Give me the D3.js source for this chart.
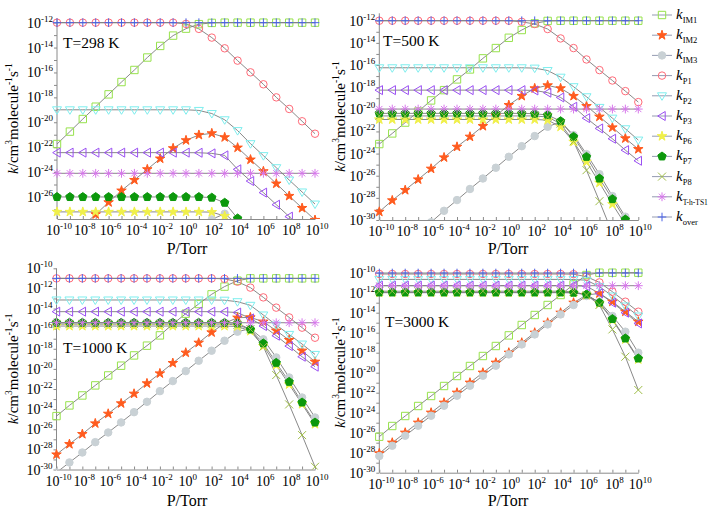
<!DOCTYPE html>
<html><head><meta charset="utf-8">
<script src="https://cdn.jsdelivr.net/npm/d3@7"></script>
<style>
body{margin:0;background:#fff}
svg{display:block}
svg text{font-family:"Liberation Serif",serif}
</style>
</head><body>
<svg id="chart" width="709" height="510"></svg>
<script>
// ---------------- DATA (log10 of k) ----------------
const pressureExponents = d3.range(-10, 11);           // P = 10^-10 ... 10^10 Torr
const xTickExponents = [-10,-8,-6,-4,-2,0,2,4,6,8,10];
const seriesKeys = ["IM1","IM2","IM3","P1","P2","P3","P6","P7","P8","TS1","over"];
const legendSubscripts = ["IM1","IM2","IM3","P1","P2","P3","P6","P7","P8","T-h-TS1","over"];
const panelTitles = ["T=298 K","T=500 K","T=1000 K","T=3000 K"];

// T = 298 K
const T298_IM1 = [-21.75,-20.75,-19.74,-18.75,-17.76,-16.77,-15.8,-14.8,-13.87,-13.04,-12.48,-12.12,-12.02,-12,-12,-12,-12,-12,-12,-12,-12];
const T298_IM2 = [-30.1,-29.2,-28.3,-27.4,-26.43,-25.49,-24.64,-23.78,-22.92,-22.09,-21.45,-21.02,-20.89,-21.21,-22.04,-23.0,-23.94,-24.93,-25.92,-26.89,-27.85];
const T298_IM3 = [-38.9,-38.0,-37.1,-36.1,-35.2,-34.2,-33.3,-32.3,-31.4,-30.4,-29.5,-28.6,-27.8,-27.35,-28.2,-29.9,-31.8,-33.7,-35.6,-37.5,-39.4];
const T298_P1  = [-12,-12,-12,-12,-12,-12,-12,-12,-12,-12,-12.1,-12.5,-13.2,-14.06,-15.05,-15.99,-16.95,-18.0,-18.93,-19.92,-20.92];
const T298_P2  = [-19,-19,-19,-19,-19,-19,-19,-19,-19,-19,-19,-19.05,-19.3,-19.8,-20.67,-21.72,-22.68,-23.65,-24.64,-25.6,-26.57];
const T298_P3  = [-22.44,-22.44,-22.44,-22.44,-22.44,-22.44,-22.44,-22.44,-22.44,-22.44,-22.44,-22.45,-22.5,-22.66,-23.78,-24.72,-25.65,-26.62,-27.58,-28.55,-29.5];
const T298_P6  = [-27.2,-27.2,-27.2,-27.2,-27.2,-27.2,-27.2,-27.2,-27.2,-27.2,-27.2,-27.2,-27.22,-27.53,-28.6,-30.5,-32.5,-34.5,-36.5,-38.5,-40.5];
const T298_P7  = [-26,-26,-26,-26,-26,-26,-26,-26,-26,-26,-26,-26,-26.05,-26.46,-27.72,-29.6,-31.6,-33.6,-35.6,-37.6,-39.6];
const T298_P8  = [-28.5,-28.5,-28.5,-28.5,-28.5,-28.5,-28.5,-28.5,-28.5,-28.5,-28.5,-28.5,-28.5,-29.0,-30.5,-32.5,-34.5,-36.5,-38.5,-40.5,-42.5];
const T298_TS1 = [-24.1,-24.1,-24.1,-24.1,-24.1,-24.1,-24.1,-24.1,-24.1,-24.1,-24.1,-24.1,-24.1,-24.1,-24.1,-24.1,-24.1,-24.1,-24.1,-24.1,-24.1];
const T298_over= [-12,-12,-12,-12,-12,-12,-12,-12,-12,-12,-12,-12,-12,-12,-12,-12,-12,-12,-12,-12,-12];

// T = 500 K
const T500_IM1 = [-23.14,-22.18,-21.2,-20.2,-19.2,-18.27,-17.3,-16.4,-15.4,-14.47,-13.54,-12.84,-12.24,-12.02,-12,-12,-12,-12,-12,-12,-12];
const T500_IM2 = [-29.26,-28.23,-27.3,-26.34,-25.37,-24.35,-23.39,-22.48,-21.52,-20.58,-19.62,-18.8,-18.11,-17.84,-18.11,-18.8,-19.71,-20.67,-21.64,-22.63,-23.6];
const T500_IM3 = [-34.0,-33.0,-32.1,-31.2,-30.2,-29.17,-28.2,-27.2,-26.25,-25.28,-24.29,-23.33,-22.42,-21.58,-21.13,-22.33,-24.05,-25.86,-27.84,-29.7,-31.6];
const T500_P1  = [-12,-12,-12,-12,-12,-12,-12,-12,-12,-12,-12,-12.1,-12.3,-12.75,-13.6,-14.47,-15.5,-16.46,-17.4,-18.36,-19.35];
const T500_P2  = [-16.25,-16.25,-16.25,-16.25,-16.25,-16.25,-16.25,-16.25,-16.25,-16.25,-16.25,-16.25,-16.28,-16.5,-17.1,-17.96,-18.87,-19.83,-20.8,-21.76,-22.78];
const T500_P3  = [-18.27,-18.27,-18.27,-18.27,-18.27,-18.27,-18.27,-18.27,-18.27,-18.27,-18.27,-18.27,-18.3,-18.5,-18.93,-19.77,-20.8,-21.73,-22.66,-23.69,-24.65];
const T500_P6  = [-20.92,-20.92,-20.92,-20.92,-20.92,-20.92,-20.92,-20.92,-20.92,-20.92,-20.92,-20.92,-20.92,-20.98,-21.58,-22.93,-24.74,-26.64,-28.57,-30.4,-32.3];
const T500_P7  = [-20.37,-20.37,-20.37,-20.37,-20.37,-20.37,-20.37,-20.37,-20.37,-20.37,-20.37,-20.37,-20.4,-20.52,-21.07,-22.48,-24.29,-26.25,-28.11,-29.95,-31.8];
const T500_P8  = [-20.6,-20.6,-20.6,-20.6,-20.6,-20.6,-20.6,-20.6,-20.6,-20.6,-20.6,-20.6,-20.6,-20.7,-21.3,-22.9,-25.5,-28.3,-31.2,-34.0,-37.0];
const T500_TS1 = [-19.98,-19.98,-19.98,-19.98,-19.98,-19.98,-19.98,-19.98,-19.98,-19.98,-19.98,-19.98,-19.98,-19.98,-19.98,-19.98,-19.98,-19.98,-19.98,-19.98,-19.98];
const T500_over= [-12,-12,-12,-12,-12,-12,-12,-12,-12,-12,-12,-12,-12,-12,-12,-12,-12,-12,-12,-12,-12];

// T = 1000 K
const T1000_IM1 = [-24.69,-23.63,-22.64,-21.64,-20.65,-19.68,-18.66,-17.69,-16.67,-15.54,-14.51,-13.55,-12.59,-11.82,-11.23,-11.0,-11,-11,-11,-11,-11];
const T1000_IM2 = [-28.51,-27.48,-26.48,-25.42,-24.46,-23.43,-22.47,-21.44,-20.45,-19.42,-18.39,-17.4,-16.37,-15.47,-14.91,-14.88,-15.31,-16.2,-17.13,-18.19,-19.29];
const T1000_IM3 = [-30.3,-29.3,-28.31,-27.28,-26.32,-25.32,-24.3,-23.27,-22.21,-21.21,-20.22,-19.19,-18.19,-17.2,-16.3,-16.0,-17.06,-18.86,-20.85,-22.84,-24.83];
const T1000_P1  = [-11,-11,-11,-11,-11,-11,-11,-11,-11,-11,-11,-11,-11,-11.05,-11.33,-11.92,-12.89,-13.91,-14.88,-15.9,-16.9];
const T1000_P2  = [-13.15,-13.15,-13.15,-13.15,-13.15,-13.15,-13.15,-13.15,-13.15,-13.15,-13.15,-13.15,-13.15,-13.17,-13.32,-13.68,-14.64,-15.64,-16.57,-17.53,-18.56];
const T1000_P3  = [-14.31,-14.31,-14.31,-14.31,-14.31,-14.31,-14.31,-14.31,-14.31,-14.31,-14.31,-14.31,-14.31,-14.32,-14.4,-14.98,-15.74,-16.7,-17.73,-18.79,-19.78];
const T1000_P6  = [-15.74,-15.74,-15.74,-15.74,-15.74,-15.74,-15.74,-15.74,-15.74,-15.74,-15.74,-15.74,-15.74,-15.74,-15.78,-16.24,-17.73,-19.62,-21.54,-23.5,-25.49];
const T1000_P7  = [-15.41,-15.41,-15.41,-15.41,-15.41,-15.41,-15.41,-15.41,-15.41,-15.41,-15.41,-15.41,-15.41,-15.42,-15.47,-16.07,-17.46,-19.39,-21.28,-23.33,-25.32];
const T1000_P8  = [-15.55,-15.55,-15.55,-15.55,-15.55,-15.55,-15.55,-15.55,-15.55,-15.55,-15.55,-15.55,-15.55,-15.56,-15.62,-16.07,-17.79,-20.61,-23.53,-26.58,-29.73];
const T1000_TS1 = [-15.41,-15.41,-15.41,-15.41,-15.41,-15.41,-15.41,-15.41,-15.41,-15.41,-15.41,-15.41,-15.41,-15.41,-15.41,-15.41,-15.41,-15.41,-15.41,-15.41,-15.41];
const T1000_over= [-11,-11,-11,-11,-11,-11,-11,-11,-11,-11,-11,-11,-11,-11,-11,-11,-11,-11,-11,-11,-11];

// T = 3000 K
const T3000_IM1 = [-26.4,-25.33,-24.33,-23.33,-22.33,-21.33,-20.33,-19.33,-18.33,-17.33,-16.27,-15.23,-14.23,-13.23,-12.23,-11.17,-10.23,-10.0,-10,-10,-10];
const T3000_IM2 = [-28.07,-27.0,-26.0,-25.0,-24.0,-23.0,-22.0,-21.0,-20.0,-19.0,-18.0,-17.0,-16.0,-15.0,-14.0,-13.0,-12.23,-12.07,-12.9,-13.9,-14.9];
const T3000_IM3 = [-28.33,-27.3,-26.3,-25.3,-24.3,-23.3,-22.3,-21.3,-20.3,-19.3,-18.17,-17.17,-16.17,-15.17,-14.17,-13.23,-12.33,-12.9,-14.33,-15.9,-18.0];
const T3000_P1  = [-10.13,-10.13,-10.13,-10.13,-10.13,-10.13,-10.13,-10.13,-10.13,-10.13,-10.13,-10.13,-10.13,-10.13,-10.13,-10.15,-10.4,-10.97,-11.9,-12.9,-13.9];
const T3000_P2  = [-10.67,-10.67,-10.67,-10.67,-10.67,-10.67,-10.67,-10.67,-10.67,-10.67,-10.67,-10.67,-10.67,-10.67,-10.67,-10.68,-10.75,-11.4,-12.33,-13.33,-14.33];
const T3000_P3  = [-11.3,-11.3,-11.3,-11.3,-11.3,-11.3,-11.3,-11.3,-11.3,-11.3,-11.3,-11.3,-11.3,-11.3,-11.3,-11.3,-11.35,-12.07,-13.0,-14.0,-15.07];
const T3000_P6  = [-12.0,-12.0,-12.0,-12.0,-12.0,-12.0,-12.0,-12.0,-12.0,-12.0,-12.0,-12.0,-12.0,-12.0,-12.0,-12.02,-12.2,-13.07,-14.73,-16.67,-18.67];
const T3000_P7  = [-11.97,-11.97,-11.97,-11.97,-11.97,-11.97,-11.97,-11.97,-11.97,-11.97,-11.97,-11.97,-11.97,-11.97,-11.97,-11.99,-12.17,-13.0,-14.63,-16.57,-18.57];
const T3000_P8  = [-11.85,-11.85,-11.85,-11.85,-11.85,-11.85,-11.85,-11.85,-11.85,-11.85,-11.85,-11.85,-11.85,-11.85,-11.85,-11.9,-12.23,-13.23,-15.67,-18.4,-21.73];
const T3000_TS1 = [-11.3,-11.3,-11.3,-11.3,-11.3,-11.3,-11.3,-11.3,-11.3,-11.3,-11.3,-11.3,-11.3,-11.3,-11.3,-11.3,-11.3,-11.3,-11.3,-11.3,-11.3];
const T3000_over= [-10.03,-10.03,-10.03,-10.03,-10.03,-10.03,-10.03,-10.03,-10.03,-10.03,-10.03,-10.03,-10.03,-10.03,-10.03,-10.03,-10.03,-10.03,-10.03,-10.03,-10.03];

const panelSeries = [
  [T298_IM1,T298_IM2,T298_IM3,T298_P1,T298_P2,T298_P3,T298_P6,T298_P7,T298_P8,T298_TS1,T298_over],
  [T500_IM1,T500_IM2,T500_IM3,T500_P1,T500_P2,T500_P3,T500_P6,T500_P7,T500_P8,T500_TS1,T500_over],
  [T1000_IM1,T1000_IM2,T1000_IM3,T1000_P1,T1000_P2,T1000_P3,T1000_P6,T1000_P7,T1000_P8,T1000_TS1,T1000_over],
  [T3000_IM1,T3000_IM2,T3000_IM3,T3000_P1,T3000_P2,T3000_P3,T3000_P6,T3000_P7,T3000_P8,T3000_TS1,T3000_over]
];
const yExtents = [[-27.77,-11.65],[-30,-11.33],[-30,-10],[-30,-10]];

// ---------------- STYLE / LAYOUT ----------------
const markerStyles = [
  {shape:"square",   fill:"none",    stroke:"#97e24c"},
  {shape:"star",     fill:"#ff5b1e", stroke:"#ff5b1e"},
  {shape:"circle",   fill:"#c9d1d5", stroke:"#c9d1d5"},
  {shape:"circle",   fill:"none",    stroke:"#ff6a78"},
  {shape:"triDown",  fill:"none",    stroke:"#7eeeee"},
  {shape:"triLeft",  fill:"none",    stroke:"#9a4ff2"},
  {shape:"star",     fill:"#f0f04a", stroke:"#f0f04a"},
  {shape:"pentagon", fill:"#0c980c", stroke:"#0c980c"},
  {shape:"x",        fill:"none",    stroke:"#9fbd48"},
  {shape:"asterisk", fill:"none",    stroke:"#d777ec"},
  {shape:"plus",     fill:"none",    stroke:"#4a62e6"}
];
const panelLayout = [
  {x0:57,   x1:315,   yTop:18.3,  yBot:219,   title:[63,48],  xTitle:[187,254], yTitleX:18},
  {x0:379.3,x1:638.3, yTop:13.3,  yBot:220,   title:[383,46], xTitle:[508,254], yTitleX:345},
  {x0:56.5, x1:315,   yTop:268.3, yBot:469.5, title:[63,353], xTitle:[187,506], yTitleX:18},
  {x0:379.3,x1:638.3, yTop:272.7, yBot:472.7, title:[385,327],xTitle:[508,506], yTitleX:345}
];

function markerPath(shape){
  switch(shape){
    case "square": return "M-3.7,-3.7H3.7V3.7H-3.7Z";
    case "star": return d3.symbol(d3.symbolStar, 28)();
    case "circle": return d3.symbol(d3.symbolCircle, 44)();
    case "triDown": return "M-4.5,-3L4.5,-3L0,4.5Z";
    case "triLeft": return "M-4.3,0L3.2,-4.5L3.2,4.5Z";
    case "pentagon": {
      const pts = d3.range(5).map(i => { const a = -Math.PI/2 + i*2*Math.PI/5; return [4.4*Math.cos(a), 4.4*Math.sin(a)]; });
      return "M" + pts.map(p => p[0].toFixed(2)+","+p[1].toFixed(2)).join("L") + "Z";
    }
    case "x": return "M-4,-4L4,4M-4,4L4,-4";
    case "asterisk": return "M0,-4.4V4.4M-4.4,0H4.4M-3.1,-3.1L3.1,3.1M-3.1,3.1L3.1,-3.1";
    case "plus": return "M0,-4.3V4.3M-4.3,0H4.3";
  }
}

const svg = d3.select("#chart");

function powLabel(sel, exp, anchor){
  const t = sel.append("text").attr("text-anchor", anchor).attr("font-size", 14);
  t.append("tspan").text("10");
  t.append("tspan").attr("dy", -6).attr("font-size", 9).text(String(exp));
  return t;
}

panelLayout.forEach((L, pi) => {
  const x = d3.scaleLog().domain([1e-10, 1e10]).range([L.x0, L.x1]);
  const y = d3.scaleLog().domain([Math.pow(10, yExtents[pi][0]), Math.pow(10, yExtents[pi][1])]).range([L.yBot, L.yTop]);
  const g = svg.append("g");

  // axes
  const xAxis = d3.axisBottom(x).tickValues(pressureExponents.map(e => Math.pow(10, e))).tickSize(-3).tickSizeOuter(0).tickFormat(() => "");
  const gx = g.append("g").attr("transform", `translate(0,${L.yBot})`).call(xAxis);
  const yTicks = d3.range(Math.ceil(yExtents[pi][0]), Math.floor(yExtents[pi][1]) + 1).map(e => Math.pow(10, e));
  const yAxis = d3.axisLeft(y).tickValues(yTicks).tickSize(3).tickSizeOuter(0).tickFormat(() => "");
  const gy = g.append("g").attr("transform", `translate(${L.x0},0)`).call(yAxis);
  [gx, gy].forEach(a => { a.selectAll("path,line").attr("stroke", "#8a8a8a"); });
  gy.select(".domain").attr("d", `M0,${L.yTop}V${L.yBot}`);

  xTickExponents.forEach(e => {
    powLabel(g, e, "middle").attr("x", x(Math.pow(10, e)) + 2).attr("y", L.yBot + 16);
  });
  d3.range(Math.ceil(yExtents[pi][0]), Math.floor(yExtents[pi][1]) + 1).filter(e => e % 2 === 0).forEach(e => {
    powLabel(g, e, "end").attr("x", L.x0 - 4).attr("y", y(Math.pow(10, e)) + 5);
  });

  // titles
  g.append("text").attr("x", L.xTitle[0]).attr("y", L.xTitle[1]).attr("text-anchor","middle").attr("font-size", 16).text("P/Torr");
  g.append("text").attr("x", L.title[0]).attr("y", L.title[1]).attr("font-size", 15.5).text(panelTitles[pi]);
  const yt = g.append("text").attr("text-anchor","middle").attr("font-size", 15)
    .attr("transform", `translate(${L.yTitleX},${(L.yTop + L.yBot)/2}) rotate(-90)`);
  yt.append("tspan").attr("font-style","italic").text("k");
  yt.append("tspan").text("/cm");
  yt.append("tspan").attr("dy",-6).attr("font-size", 9.5).text("3");
  yt.append("tspan").attr("dy",6).text("molecule");
  yt.append("tspan").attr("dy",-6).attr("font-size", 9.5).text("-1");
  yt.append("tspan").attr("dy",6).text("s");
  yt.append("tspan").attr("dy",-6).attr("font-size", 9.5).text("-1");

  // data
  const clipId = "clip" + pi;
  svg.append("clipPath").attr("id", clipId).append("rect")
    .attr("x", L.x0 - 12).attr("y", L.yTop - 12).attr("width", L.x1 - L.x0 + 24).attr("height", L.yBot - L.yTop + 12);
  const dg = g.append("g").attr("clip-path", `url(#${clipId})`);
  const line = d3.line().x(d => x(Math.pow(10, d[0]))).y(d => y(Math.pow(10, d[1])));
  const seriesData = panelSeries[pi].map(vals => pressureExponents.map((e, i) => [e, vals[i]]));
  seriesData.forEach(pts => {
    dg.append("path").attr("d", line(pts)).attr("fill","none").attr("stroke","#7c7c7c").attr("stroke-width",0.9);
  });
  seriesData.forEach((pts, si) => {
    const st = markerStyles[si];
    dg.append("g").selectAll("path").data(pts).join("path")
      .attr("d", markerPath(st.shape))
      .attr("transform", d => `translate(${x(Math.pow(10, d[0]))},${y(Math.pow(10, d[1]))})`)
      .attr("fill", st.fill).attr("stroke", st.stroke).attr("stroke-width", 1);
  });
});

// legend
const lg = svg.append("g");
legendSubscripts.forEach((sub, i) => {
  const yy = 15 + i * 20.2;
  const st = markerStyles[i];
  lg.append("line").attr("x1", 652).attr("x2", 672).attr("y1", yy).attr("y2", yy).attr("stroke", "#8890a8").attr("stroke-width", 0.9);
  lg.append("path").attr("d", markerPath(st.shape)).attr("transform", `translate(662,${yy})`)
    .attr("fill", st.fill).attr("stroke", st.stroke).attr("stroke-width", 1);
  const t = lg.append("text").attr("x", 676).attr("y", yy + 4).attr("font-size", 15);
  t.append("tspan").attr("font-style","italic").text("k");
  const s = t.append("tspan").attr("dy", 4).attr("font-size", 8.5).text(sub);
  if (sub.length > 5) s.attr("font-size", 7.5);
});
</script>
</body></html>
